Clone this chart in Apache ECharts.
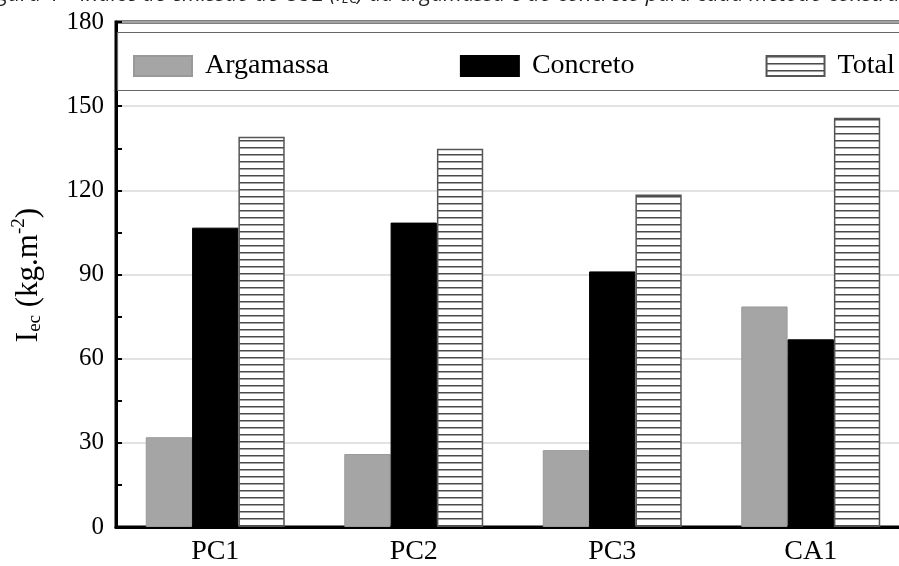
<!DOCTYPE html>
<html>
<head>
<meta charset="utf-8">
<style>html,body{margin:0;padding:0;background:#fff;overflow:hidden;width:899px;height:566px;}#c{width:930px;height:566px;}</style>
<script src="https://cdn.jsdelivr.net/npm/echarts@6/dist/echarts.min.js"></script>
</head>
<body>
<div id="c"></div>
<script>
var categories = ['PC1', 'PC2', 'PC3', 'CA1'];
var argamassa = [32.0, 26.0, 27.4, 78.6];
var concreto = [106.7, 108.5, 91.1, 66.9];
var total = [139.1, 134.8, 118.5, 145.9];
var yTicks = { min: 0, max: 180, interval: 30 };

function hatch() {
  var cv = document.createElement('canvas');
  cv.width = 8; cv.height = 7;
  var ctx = cv.getContext('2d');
  ctx.fillStyle = '#fff';
  ctx.fillRect(0, 0, 8, 7);
  ctx.fillStyle = '#4a4a4a';
  ctx.fillRect(0, 0, 8, 1.5);
  return cv;
}

var chart = echarts.init(document.getElementById('c'), null, { renderer: 'canvas' });
var serif = '"Liberation Serif", "DejaVu Serif", serif';
chart.setOption({
  animation: false,
  backgroundColor: '#fff',
  textStyle: { fontFamily: serif },
  grid: { left: 116, top: 22, width: 794, bottom: 38, show: true, borderColor: '#000', borderWidth: 3, backgroundColor: 'transparent' },
  legend: {
    left: 133, top: 52, z: 10,
    padding: 0,
    icon: 'rect',
    itemWidth: 58, itemHeight: 20, itemGap: 131,
    textStyle: { fontFamily: serif, fontSize: 28, color: '#000', padding: [0, 0, 0, 8] },
    data: ['Argamassa', 'Concreto', 'Total']
  },
  xAxis: {
    type: 'category', data: categories,
    axisLine: { lineStyle: { color: '#000', width: 3 } },
    axisTick: { show: false },
    axisLabel: { fontFamily: serif, fontSize: 28, color: '#000', margin: 11 }
  },
  yAxis: {
    type: 'value', min: yTicks.min, max: yTicks.max, interval: yTicks.interval,
    axisLine: { show: true, lineStyle: { color: '#000', width: 3 } },
    axisTick: { show: true, inside: true, length: 6, lineStyle: { color: '#000', width: 2 } },
    minorTick: { show: true, splitNumber: 2, length: 6, lineStyle: { color: '#000', width: 2 } },
    splitLine: { show: true, lineStyle: { color: '#d9d9d9', width: 1.5 } },
    axisLabel: { fontFamily: serif, fontSize: 25, color: '#000', margin: 12 }
  },
  graphic: [
    {
      type: 'rect', z: 5,
      shape: { x: 117.5, y: 32.5, width: 820, height: 58 },
      style: { fill: '#fff', stroke: '#666', lineWidth: 1.2 }
    },
    {
      type: 'text', x: 27, y: 275, rotation: Math.PI / 2,
      style: {
        text: '{n|I}{s|ec}{n| (kg.m}{p|-2}{n|)}',
        font: '31px ' + serif, fill: '#000',
        align: 'center', verticalAlign: 'middle',
        rich: {
          n: { fontSize: 31, fontFamily: serif, verticalAlign: 'bottom', lineHeight: 35 },
          s: { fontSize: 19, fontFamily: serif, verticalAlign: 'bottom', lineHeight: 18 },
          p: { fontSize: 19, fontFamily: serif, verticalAlign: 'top', lineHeight: 18 }
        }
      }
    },
    {
      type: 'text', x: -19, y: -5,
      style: {
        text: 'Figura 4 – Índice de emissão de CO2 (I{s|EC}) da argamassa e do concreto para cada método construtivo',
        font: 'italic 21.6px "Open Sans", "Noto Sans", sans-serif', fill: '#222',
        verticalAlign: 'middle',
        rich: { s: { fontSize: 14, fontStyle: 'italic', fontFamily: '"Open Sans", sans-serif', fill: '#222', verticalAlign: 'bottom' } }
      }
    }
  ],
  series: [
    { name: 'Argamassa', type: 'bar', data: argamassa, barGap: '0%', barCategoryGap: '30%',
      itemStyle: { color: '#a5a5a5', borderColor: '#999', borderWidth: 1 } },
    { name: 'Concreto', type: 'bar', data: concreto,
      itemStyle: { color: '#000', borderColor: '#000', borderWidth: 1 } },
    { name: 'Total', type: 'bar', data: total,
      itemStyle: { color: { image: hatch(), repeat: 'repeat' }, borderColor: '#555', borderWidth: 1.5 } }
  ]
});
</script>
</body>
</html>
